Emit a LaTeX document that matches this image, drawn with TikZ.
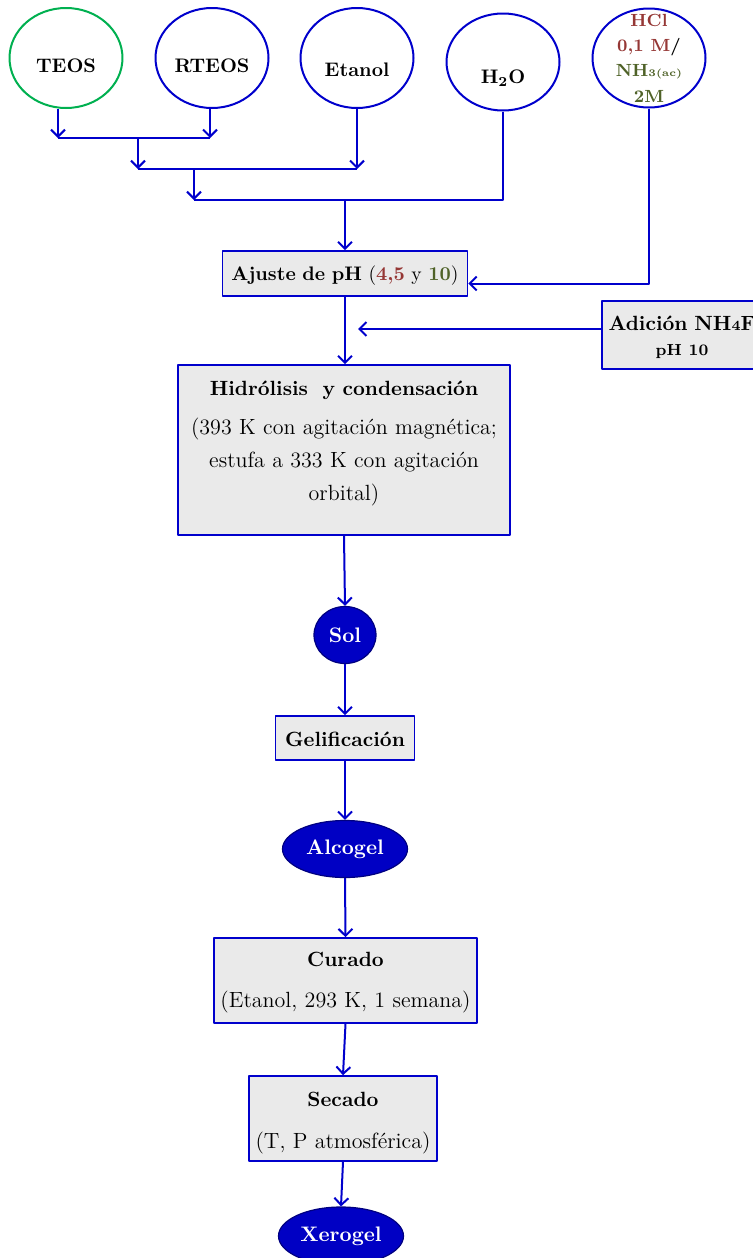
\documentclass[tikz,border=0pt]{standalone}
\usepackage{xcolor}
\usepackage{tikz}
\usetikzlibrary{arrows.meta,positioning,shapes.geometric}
\definecolor{sgBlue}{HTML}{0000CC}
\definecolor{sgGreen}{HTML}{00B050}
\definecolor{sgGray}{HTML}{EAEAEA}
\definecolor{sgNavy}{HTML}{0000C4}
\definecolor{sgNavyEdge}{HTML}{000080}
\definecolor{sgRed}{HTML}{953735}
\definecolor{sgOlive}{HTML}{4F6228}
\newcommand{\sgbold}[1]{{\fontsize{10.3}{12}\selectfont\bfseries #1}}
\tikzset{
  sg diagram/.style={x=0.5pt, y=-0.5pt, line join=round},
  sg source/.style={ellipse, draw=sgBlue, line width=1pt, inner sep=0pt,
    minimum width=56.5pt, minimum height=50pt, text depth=0pt,
    font=\fontsize{9.8}{12}\selectfont\bfseries},
  sg box/.style={draw=sgBlue, fill=sgGray, line width=0.8pt, inner sep=0pt,
    align=center, anchor=base, font=\fontsize{11}{16.5}\selectfont},
  sg product/.style={ellipse, draw=sgNavyEdge, fill=sgNavy, line width=0.6pt,
    inner sep=0pt, minimum height=28.5pt, text=white,
    font=\fontsize{10.5}{12}\selectfont\bfseries},
  sg line/.style={draw=sgBlue, line width=1pt},
  sg arrow/.style={sg line, -{Straight Barb[length=3.5pt,width=7pt]}}
}
\begin{document}
\begin{tikzpicture}[sg diagram]
\useasboundingbox (0,0) rectangle (753,1258);
\clip (0,0) rectangle (753,1258);
\node (teos) [sg source, draw=sgGreen, text height=14.2pt] at (66,58) {TEOS};
\node (rteos) [sg source, text height=14.2pt] at (212,58) {RTEOS};
\node (etanol) [sg source, text height=18.4pt] at (357,58) {Etanol};
\node (h2o) [sg source, minimum height=48.5pt, text height=21.2pt] at (503,62) {H\textsubscript{2}O};
\node (hcl) [sg source, minimum height=49.5pt] at (649,58) {};
\node (hclnote) [align=center, font=\fontsize{8.8}{12.7}\selectfont\bfseries] at (hcl)
  {\textcolor{sgRed}{HCl}\\\textcolor{sgRed}{0,1 M}/\\
   \textcolor{sgOlive}{NH{\fontsize{5}{6}\selectfont 3(ac)}}\\\textcolor{sgOlive}{2M}};
\coordinate (j1a) at (58,138);
\coordinate (j1b) at (210,138);
\coordinate (j2a) at (138,169);
\coordinate (j2b) at (357,169);
\coordinate (j3a) at (194,200);
\node (aph) [sg box, text width=122.5pt, text height=14.5pt, text depth=8pt,
  font=\fontsize{9.8}{12}\selectfont] at (345,280)
  {{\bfseries Ajuste de pH} ({\bfseries\color{sgRed}4,5} y {\bfseries\color{sgOlive}10})};
\node (nh4f) [sg box, text width=80pt, text height=14.5pt, text depth=19.5pt,
  font=\fontsize{10.3}{12.5}\selectfont\bfseries] at (682,330)
  {Adición NH{\fontsize{7}{8}\selectfont 4}F\\{\fontsize{8}{10}\selectfont pH 10}};
\coordinate (nhin) at (358,329);
\node (hyc) [sg box, text width=166pt, text height=15pt, text depth=70pt] at (344,395)
  {\sgbold{Hidrólisis\ \ y condensación}\\[3pt] (393 K con agitación magnética;\\
   estufa a 333 K con agitación\\ orbital)};
\node (sol) [sg product, minimum width=31pt] at (345,635) {Sol};
\node (gel) [sg box, text width=69.5pt, text height=15pt, text depth=7pt] at (345,746)
  {\sgbold{Gelificación}};
\node (alc) [sg product, minimum width=62.5pt] at (345,849) {Alcogel};
\node (cur) [sg box, text width=131.5pt, text height=14pt, text depth=28.5pt] at (345.5,966)
  {\sgbold{Curado}\\[4pt] (Etanol, 293 K, 1 semana)};
\node (sec) [sg box, text width=94pt, text height=15pt, text depth=27.5pt] at (343,1106)
  {\sgbold{Secado}\\[4.5pt] (T, P atmosférica)};
\node (xer) [sg product, minimum width=62.5pt, minimum height=29pt] at (341,1236) {Xerogel};
\draw[sg arrow] (teos.south -| j1a) -- (j1a);
\draw[sg arrow] (rteos.south -| j1b) -- (j1b);
\draw[sg line] (j1a) -- (j1b);
\draw[sg arrow] (j1a -| j2a) -- (j2a);
\draw[sg arrow] (etanol.south) -- (j2b);
\draw[sg line] (j2a) -- (j2b);
\draw[sg arrow] (j2a -| j3a) -- (j3a);
\draw[sg line] (h2o.south) |- (j3a);
\draw[sg arrow] (j3a -| aph.north) -- (aph.north);
\draw[sg arrow] (hcl.south) |- ([yshift=-5pt]aph.east);
\draw[sg arrow] (nh4f.west |- nhin) -- (nhin);
\draw[sg arrow] (aph.south) -- (aph.south |- hyc.north);
\draw[sg arrow] (hyc.south) -- (sol.north);
\draw[sg arrow] (sol.south) -- (gel.north);
\draw[sg arrow] (gel.south) -- (alc.north);
\draw[sg arrow] (alc.south) -- (cur.north);
\draw[sg arrow] (cur.south) -- (sec.north);
\draw[sg arrow] (sec.south) -- (xer.north);
\end{tikzpicture}
\end{document}
